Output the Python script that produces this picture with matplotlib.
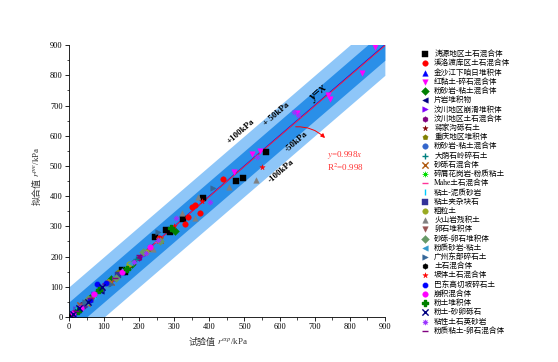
import matplotlib
matplotlib.use('Agg')
import matplotlib.pyplot as plt
import numpy as np

plt.rcParams['font.family'] = ['Liberation Serif', 'Noto Sans CJK SC', 'DejaVu Sans']
plt.rcParams['mathtext.fontset'] = 'stix'

# 各数据组：名称、标记、颜色、试验值、拟合值
names = ['涛源地区土石混合体', '溪洛渡库区土石混合体', '金沙江下咱日堆积体', '红黏土-碎石混合体',
         '粉砂岩-粘土混合体', '片岩堆积物', '汶川地区崩滑堆积体', '汶川地区土石混合体',
         '蒋家沟砾石土', '重庆地区堆积体', '粉砂岩-粘土混合体', '大荫石岭碎石土',
         '砂砾石混合体', '碎屑花岗岩-粉质粘土', 'Mahe土石混合体', '粘土-泥质砂岩',
         '粘土夹杂块石', '粗粒土', '火山岩残积土', '卵石堆积体', '砂砾-卵石堆积体',
         '粉质砂岩-粘土', '广州东部碎石土', '土石混合体', '坡体土石混合体',
         '巴东高切坡碎石土', '崩积混合体', '粉土堆积体', '粉土-砂卵砾石',
         '粘性土石英砂岩', '粉质粘土-卵石混合体']
markers = ['s', 'o', '^', 'v', 'D', '<', '>', 'h', '*', 'p', 'o', '+', 'x', (8, 2, 0),
           '_', '|', 's', 'o', '^', 'v', 'D', '<', '>', 'h', '*', '8', 'o', 'P', 'x',
           (8, 1, 0), '_']
colors = ['#000000', '#ff0000', '#0000ff', '#ff00ff', '#008000', '#000080', '#8000ff',
          '#800080', '#800000', '#808000', '#3366cc', '#008080', '#b05a10', '#00dd00',
          '#ff3399', '#00ccff', '#333399', '#99aa22', '#808080', '#995555', '#669966',
          '#3399cc', '#336699', '#000000', '#ff0000', '#0000ff', '#ff00ff', '#008000',
          '#000080', '#9933ff', '#800080']

x_exp = [
    [151, 160, 245, 276, 288, 325, 382, 476, 496, 561],
    [255, 330, 340, 350, 360, 373, 439],
    [10, 25, 40, 60],
    [470, 520, 544, 650, 738, 744, 835, 872],
    [60, 120, 180, 302],
    [30, 90, 150],
    [20, 70, 130, 210],
    [15, 45, 100, 200],
    [40, 110, 170],
    [60, 140, 230],
    [20, 50, 95],
    [35, 80, 130, 190],
    [30, 50, 120, 260],
    [25, 70, 160],
    [15, 55, 100, 180, 250],
    [20, 75, 150],
    [40, 90, 140],
    [50, 110, 170, 220],
    [240, 322, 359, 367, 455, 533],
    [30, 65, 110],
    [55, 135, 210, 260],
    [45, 105, 175],
    [45, 120, 254, 410],
    [5, 10, 18, 382],
    [300, 380, 550],
    [20, 30, 60, 80, 105],
    [10, 35, 70, 150, 230],
    [25, 85, 165, 290],
    [12, 28, 55, 95],
    [185, 219, 254, 305, 402, 535, 640, 652],
    [20, 60, 130, 200],
]
y_pre = [
    [156, 149, 265, 288, 281, 325, 394, 450, 460, 546],
    [262, 308, 330, 364, 370, 344, 457],
    [12, 22, 45, 58],
    [480, 540, 550, 675, 735, 722, 808, 894],
    [62, 125, 175, 285],
    [35, 85, 150],
    [25, 75, 125, 205],
    [18, 40, 105, 195],
    [45, 110, 165],
    [55, 148, 225],
    [25, 48, 98],
    [30, 85, 128, 192],
    [40, 45, 115, 255],
    [28, 72, 158],
    [15, 57, 100, 182, 248],
    [22, 70, 152],
    [38, 92, 140],
    [50, 115, 175, 215],
    [225, 344, 328, 397, 430, 454],
    [35, 60, 112],
    [60, 130, 215, 250],
    [50, 100, 178],
    [50, 110, 281, 427],
    [5, 12, 15, 394],
    [300, 385, 497],
    [15, 30, 56, 110, 112],
    [12, 30, 75, 148, 232],
    [20, 88, 160, 295],
    [10, 30, 50, 100],
    [182, 212, 255, 328, 381, 530, 680, 670],
    [20, 62, 128, 205],
]
k_fit = 0.998

fig = plt.figure(figsize=(5.58, 3.62), dpi=100)
ax = fig.add_axes([0.1237, 0.1243, 0.566, 0.751])

xx = np.array([0, 900])
ax.fill_between(xx, xx - 100, xx + 100, color='#8ec6f8', lw=0, zorder=0)
ax.fill_between(xx, xx - 50, xx + 50, color='#2a8fe8', lw=0, zorder=1)
ax.plot(xx, xx, color='#0000ff', lw=0.9, zorder=2)
ax.plot(xx, k_fit * xx, color='#ff3030', lw=0.7, zorder=3)

for i in range(len(names)):
    ms = 4 if markers[i] not in ('_', '|', '+', 'x') else 4.5
    ax.scatter(x_exp[i], y_pre[i], marker=markers[i], s=ms ** 2, color=colors[i],
               linewidths=1.0 if markers[i] in ('_', '|', '+', 'x', 'P') else 0.3,
               label=names[i], zorder=4)

ax.set_xlim(0, 900)
ax.set_ylim(0, 900)
ax.set_xticks(np.arange(0, 901, 100))
ax.set_yticks(np.arange(0, 901, 100))
ax.set_xticks(np.arange(50, 900, 100), minor=True)
ax.set_yticks(np.arange(50, 900, 100), minor=True)
ax.tick_params(direction='out', labelsize=6, length=3, width=0.6, pad=1.5)
ax.tick_params(which='minor', direction='out', length=1.8, width=0.5)
ax.spines['top'].set_visible(False)
ax.spines['right'].set_visible(False)
ax.spines['left'].set_linewidth(0.6)
ax.spines['bottom'].set_linewidth(0.6)

# 轴标题（中文和公式分开写）
ax.text(0.465, -0.092, '试验值', transform=ax.transAxes, fontsize=6.5,
        ha='right', va='center', color='#333333')
ax.text(0.468, -0.092, '$r^{exp}$/kPa', transform=ax.transAxes, fontsize=6.5,
        ha='left', va='center', color='#333333')
ax.text(-0.101, 0.511, '拟合值', transform=ax.transAxes, fontsize=6.5, rotation=90,
        ha='center', va='top', color='#333333')
ax.text(-0.101, 0.514, '$r^{pre}$/kPa', transform=ax.transAxes, fontsize=6.5,
        rotation=90, ha='center', va='bottom', color='#333333')

ax.text(490, 615, '+100kPa', rotation=41, fontsize=6.5, fontweight='bold',
        ha='center', va='center')
ax.text(592, 672, '+ 50kPa', rotation=41, fontsize=6.5, fontweight='bold',
        ha='center', va='center')
ax.text(647, 582, '-50kPa', rotation=41, fontsize=6.5, fontweight='bold',
        ha='center', va='center')
ax.text(604, 483, '-100kPa', rotation=41, fontsize=6.5, fontweight='bold',
        ha='center', va='center')
ax.text(710, 742, 'y=x', rotation=41, fontsize=9, fontweight='bold',
        fontstyle='italic', ha='center', va='center')

ax.annotate('', xy=(735, 586), xytext=(638, 629),
            arrowprops=dict(arrowstyle='-|>', color='#ff0000', lw=0.7,
                            mutation_scale=6, connectionstyle='arc3,rad=-0.25'))
ax.text(787, 535, '$y$=0.998$x$', color='#ff3333', fontsize=6.5,
        ha='center', va='center')
ax.text(787, 495, 'R$^2$=0.998', color='#ff3333', fontsize=6.5,
        ha='center', va='center')

fig.legend(loc='upper left', bbox_to_anchor=(0.748, 0.87), frameon=False,
           fontsize=5.5, labelspacing=0.16, handletextpad=0.6, borderaxespad=0,
           handlelength=1.2, markerscale=1.0, scatterpoints=1)

fig.savefig('out.png', dpi=100)
